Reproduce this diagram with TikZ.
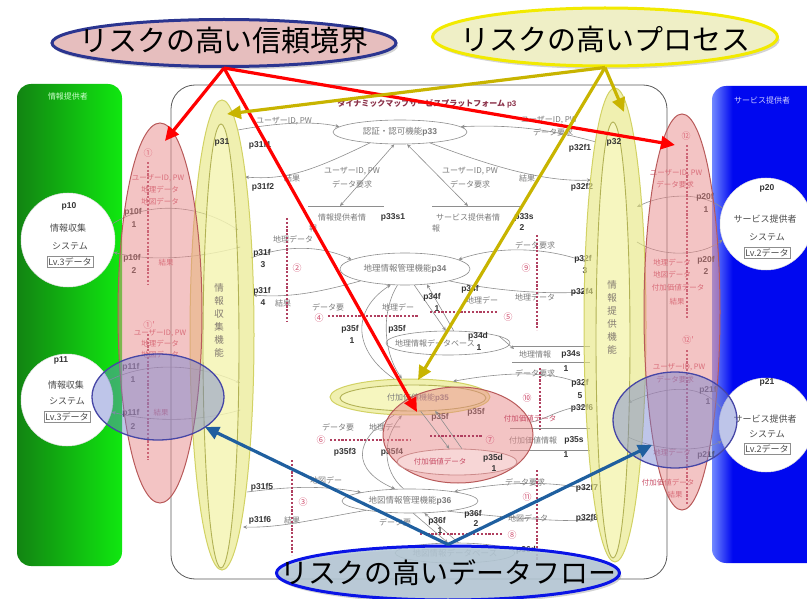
\documentclass[tikz,border=0pt]{standalone}
\usepackage{fontspec}
\setmainfont{Noto Sans CJK JP}
\newfontfamily\lab{Liberation Sans}
\usetikzlibrary{shapes.geometric,arrows.meta,shadows}
\definecolor{grayln}{HTML}{8E8E8E}
\definecolor{graytx}{HTML}{7A7A7A}
\definecolor{rdash}{HTML}{B04060}
\definecolor{rnum}{HTML}{D05070}
\definecolor{pinkfill}{HTML}{E88A8A}
\definecolor{pinkline}{HTML}{B85A5A}
\definecolor{yfill}{HTML}{E6E680}
\definecolor{yline}{HTML}{D2D264}
\definecolor{yinner}{HTML}{FAFAC8}
\definecolor{bfill}{HTML}{6F7FCF}
\definecolor{bline}{HTML}{4646A6}
\definecolor{redarr}{HTML}{FF0000}
\definecolor{yelarr}{HTML}{C8B400}
\definecolor{bluarr}{HTML}{1F5F9F}
\definecolor{cfa}{HTML}{E6BEBE}
\definecolor{cla}{HTML}{2B3590}
\definecolor{cfb}{HTML}{EFEFC6}
\definecolor{clb}{HTML}{F2EA00}
\definecolor{cfc}{HTML}{B4C8D6}
\definecolor{clc}{HTML}{0A14E6}
\definecolor{gdark}{HTML}{128412}
\definecolor{glight}{HTML}{10E810}
\definecolor{bpanel}{HTML}{0008F0}
\definecolor{bpanell}{HTML}{7088FF}
\definecolor{titlec}{HTML}{8A3048}
\definecolor{pinktx}{HTML}{C85068}
\pgfdeclarehorizontalshading{greenpanel}{100bp}{color(0bp)=(gdark); color(25bp)=(gdark); color(75bp)=(glight); color(100bp)=(glight)}
\pgfdeclarehorizontalshading{bluepanel}{100bp}{color(0bp)=(bpanell); color(25bp)=(bpanell); color(33bp)=(bpanel); color(100bp)=(bpanel)}
\tikzset{
 gtx/.style={font=\fontsize{8}{9}\selectfont, text=graytx, inner sep=0.5pt},
 ptx/.style={font=\lab\bfseries\fontsize{8.5}{9}\selectfont, text=black!80, inner sep=0.5pt},
 rtx/.style={font=\fontsize{7.5}{8}\selectfont, text=pinktx, inner sep=0.5pt},
 wtx/.style={font=\fontsize{9}{10}\selectfont, text=black!70, inner sep=0.5pt},
 rno/.style={font=\fontsize{9}{9}\selectfont, text=rnum, inner sep=0pt},
 gflow/.style={draw=grayln, line width=0.6pt, -{Stealth[length=4pt,width=3.5pt]}},
 gbi/.style={draw=grayln, line width=0.6pt, {Stealth[length=4pt,width=3.5pt]}-{Stealth[length=4pt,width=3.5pt]}},
 gline/.style={draw=grayln, line width=0.7pt},
 rdl/.style={draw=rdash, line width=1.3pt, dash pattern=on 2.2pt off 1.6pt},
 gproc/.style={ellipse, draw=grayln, fill=white, line width=0.6pt, inner sep=0pt, font=\fontsize{8.5}{9}\selectfont, text=graytx},
 wcirc/.style={circle, fill=white, draw=black!12, line width=0.5pt, inner sep=0pt},
 pinkell/.style={ellipse, fill=pinkfill, fill opacity=0.5, draw=pinkline, line width=1pt, inner sep=0pt},
 yell/.style={ellipse, fill=yfill, fill opacity=0.62, draw=yline, line width=1pt, inner sep=0pt},
 yinn/.style={ellipse, fill=yinner, fill opacity=0.6, draw=yline!85!black, line width=0.9pt, inner sep=0pt},
 bell/.style={ellipse, fill=bfill, fill opacity=0.45, draw=bline, line width=1.3pt, inner sep=0pt},
 bigarrow/.style={line width=3.2pt, -{Triangle[length=14pt,width=13pt]}},
 callout/.style={ellipse, line width=3pt, inner sep=0pt, drop shadow={opacity=0.35, shadow xshift=2pt, shadow yshift=-3pt}},
 ctext/.style={font=\fontsize{29}{30}\selectfont, text=black, inner sep=0pt},
}
\begin{document}
\begin{tikzpicture}[x=1pt,y=-1pt]
\useasboundingbox (0,0) rectangle (807,599);
% side panels
\path[shading=greenpanel, rounded corners=14pt] (17,84) rectangle (122,566);
\node[font=\fontsize{8}{9}\selectfont, text=white!80!green] (glab) at (68,96) {情報提供者};
\path[shading=bluepanel, rounded corners=14pt] (712,86) rectangle (840,563);
\node[font=\fontsize{8}{9}\selectfont, text=white!80!blue] (blab) at (762,100) {サービス提供者};
% external systems
\node[wcirc, minimum size=94pt] (p10) at (68,240) {};
\node[ptx] (p10a) at (69,206) {p10};
\node[wtx] (p10b) at (68,228) {情報収集};
\node[wtx] (p10c) at (70,246) {システム};
\node[wtx, draw=grayln, inner sep=1.5pt] (p10d) at (70,262) {Lv.3データ};
\node[wcirc, minimum size=92pt] (p11) at (67,400) {};
\node[ptx] (p11a) at (61,360) {p11};
\node[wtx] (p11b) at (66,385) {情報収集};
\node[wtx] (p11c) at (67,401) {システム};
\node[wtx, draw=grayln, inner sep=1.5pt] (p11d) at (67,417) {Lv.3データ};
\node[wcirc, minimum size=92pt] (p20) at (766,224) {};
\node[ptx] (p20a) at (767,188) {p20};
\node[wtx] (p20b) at (765,219) {サービス提供者};
\node[wtx] (p20c) at (767,237) {システム};
\node[wtx, draw=grayln, inner sep=1.5pt] (p20d) at (767,253) {Lv.2データ};
\node[wcirc, minimum size=94pt] (p21) at (766,425) {};
\node[ptx] (p21a) at (767,382) {p21};
\node[wtx] (p21b) at (765,419) {サービス提供者};
\node[wtx] (p21c) at (767,434) {システム};
\node[wtx, draw=grayln, inner sep=1.5pt] (p21d) at (767,449) {Lv.2データ};
% platform
\draw[draw=black!65, line width=0.8pt, rounded corners=24pt] (171,85) rectangle (667,579);
\node[font=\fontsize{8}{9}\selectfont\bfseries, text=titlec] (title) at (427,104) {ダイナミックマップサービスプラットフォーム {\lab\bfseries p3}};
% processes and stores
\node[gproc, minimum width=134pt, minimum height=24pt] (p33) at (400,132) {認証・認可機能{\lab\bfseries p33}};
\node[gproc, minimum width=130pt, minimum height=32pt] (p34) at (405,269) {地理情報管理機能{\lab\bfseries p34}};
\node[gproc, minimum width=124pt, minimum height=24pt] (p34d) at (448,343) {};
\node[gtx] (p34dt) at (435,343) {地理情報データベース};
\node[ptx] (p34dl) at (478,336) {p34d};
\node[ptx] (p34dn) at (479,348) {1};
\node[gproc, minimum width=136pt, minimum height=24pt] (p36) at (410,501) {地図情報管理機能{\lab\bfseries p36}};
\node[gproc, minimum width=110pt, minimum height=20pt] (p36d) at (455,553) {地図情報データベース};
\node[ptx] (p36dl) at (526,550) {p36d};
% data stores
\coordinate (s1t) at (340,206);
\coordinate (s2t) at (468,206);
\draw[gline] (308,206) -- (384,206);
\draw[gline] (432,206) -- (522,206);
\node[gtx] (s1a) at (342,217) {情報提供者情};
\node[ptx] (s1b) at (393,217) {p33s1};
\node[gtx] (s1c) at (313,228) {報};
\node[gtx] (s2a) at (468,217) {サービス提供者情};
\node[ptx] (s2b) at (524,217) {p33s};
\node[ptx] (s2c) at (522,228) {2};
\node[gtx] (s2d) at (436,228) {報};
\draw[gline] (512,346) -- (590,346);
\draw[gline] (512,362) -- (590,362);
\node[gtx] (s3a) at (535,354) {地理情報};
\node[ptx] (s3b) at (571,354) {p34s};
\node[ptx] (s3c) at (566,369) {1};
\coordinate (s3w) at (514,349);
\draw[gline] (510,428) -- (590,428);
\draw[gline] (510,450) -- (590,450);
\node[gtx] (s4a) at (533,440) {付加価値情報};
\node[ptx] (s4b) at (574,440) {p35s};
\node[ptx] (s4c) at (566,455) {1};
% endpoints inside processes p31 / p32
\coordinate (q1) at (238,130);
\coordinate (q2) at (245,177);
\coordinate (q3) at (251,258);
\coordinate (q4) at (253,295);
\coordinate (q5) at (247,492);
\coordinate (q6) at (243,527);
\coordinate (q7) at (238,230);
\coordinate (q8) at (240,247);
\coordinate (q9) at (240,383);
\coordinate (q10) at (240,410);
\coordinate (r1) at (596,142);
\coordinate (r2) at (591,180);
\coordinate (r3) at (586,262);
\coordinate (r4) at (585,292);
\coordinate (r5) at (585,386);
\coordinate (r6) at (586,406);
\coordinate (r7) at (590,490);
\coordinate (r8) at (594,520);
\coordinate (r9) at (637,207);
\coordinate (r10) at (637,242);
\coordinate (r11) at (628,403);
\coordinate (r12) at (628,437);
% center yellow process p35
\node[yell, minimum width=160pt, minimum height=36pt] (p35o) at (410,397) {};
\node[yinn, minimum width=146pt, minimum height=26pt] (p35) at (413,398) {};
\node[gtx] (p35t) at (418,398) {付加価値機能{\lab\bfseries p35}};
% gray flows
\draw[gflow] (q1) .. controls (270,124) and (310,120) .. (p33.175);
\draw[gflow] (p33.200) .. controls (310,172) and (285,180) .. (q2);
\draw[gflow] (r1) .. controls (560,132) and (520,124) .. (p33.5);
\draw[gflow] (p33.340) .. controls (500,170) and (550,182) .. (r2);
\draw[gbi] (p33.245) -- (s1t);
\draw[gbi] (p33.300) -- (s2t);
\draw[gflow] (q3) .. controls (285,245) and (320,245) .. (p34.170);
\draw[gflow] (p34.195) .. controls (320,292) and (290,298) .. (q4);
\draw[gflow] (r3) .. controls (550,248) and (500,245) .. (p34.10);
\draw[gflow] (p34.345) .. controls (500,292) and (550,294) .. (r4);
\draw[gflow] (p34.300) -- (p34d.100);
\draw[gflow] (p34d.65) -- (p34.325);
\draw[gflow] (p34d.8) -- (s3w);
\draw[gflow] (p35o.131) .. controls (352,350) and (352,310) .. (p34.228);
\draw[gflow] (p34.245) .. controls (382,310) and (382,350) .. (p35o.114);
\draw[gflow] (p35o.229) .. controls (352,440) and (352,470) .. (p36.141);
\draw[gflow] (p36.118) .. controls (382,470) and (382,440) .. (p35o.246);
\draw[gflow] (r5) .. controls (560,372) and (515,370) .. (p35o.20);
\draw[gflow] (q5) .. controls (280,488) and (315,484) .. (p36.170);
\draw[gflow] (p36.192) .. controls (310,520) and (280,528) .. (q6);
\draw[gflow] (r7) .. controls (560,482) and (510,480) .. (p36.12);
\draw[gflow] (p36.345) .. controls (510,518) and (560,522) .. (r8);
\draw[gflow] (p36.285) -- (p36d.125);
\draw[gflow] (p36d.72) -- (p36.320);
\draw[gflow] (p10.20) .. controls (150,200) and (200,205) .. (q7);
\draw[gflow] (q8) .. controls (200,258) and (150,262) .. (p10.345);
\draw[gflow] (p11.25) .. controls (150,360) and (200,365) .. (q9);
\draw[gflow] (q10) .. controls (200,422) and (150,422) .. (p11.345);
\draw[gflow] (p20.160) .. controls (700,190) and (660,195) .. (r9);
\draw[gflow] (r10) .. controls (660,257) and (700,257) .. (p20.200);
\draw[gflow] (p21.160) .. controls (700,380) and (660,388) .. (r11);
\draw[gflow] (r12) .. controls (660,452) and (700,452) .. (p21.200);
% gray flow texts
\node[gtx] (t1) at (284,121) {ユーザーID, PW};
\node[gtx] (t2) at (292,178) {結果};
\node[gtx] (t3) at (352,171) {ユーザーID, PW};
\node[gtx] (t4) at (352,184) {データ要求};
\node[gtx] (t5) at (470,171) {ユーザーID, PW};
\node[gtx] (t6) at (470,184) {データ要求};
\node[gtx] (t7) at (549,120) {ユーザーID, PW};
\node[gtx] (t8) at (553,132) {データ要求};
\node[gtx] (t9) at (527,178) {結果};
\node[gtx] (t10) at (293,239) {地理データ};
\node[gtx] (t11) at (283,303) {結果};
\node[gtx] (t12) at (535,245) {データ要求};
\node[gtx] (t13) at (535,297) {地理データ};
\node[gtx] (t14) at (328,307) {データ要};
\node[gtx] (t15) at (398,307) {地理デー};
\node[gtx] (t16) at (482,300) {地理デー};
\node[gtx] (t17) at (338,427) {データ要};
\node[gtx] (t18) at (385,427) {地理デー};
\node[gtx] (t19) at (535,373) {データ要求};
\node[gtx] (t20) at (326,480) {地図デー};
\node[gtx] (t21) at (292,520) {結果};
\node[gtx] (t22) at (525,482) {データ要求};
\node[gtx] (t23) at (528,518) {地図データ};
\node[gtx] (t24) at (395,522) {データ要};
% bold flow labels
\node[ptx] (f311) at (260,145) {p31f1};
\node[ptx] (f312) at (263,187) {p31f2};
\node[ptx] (f313) at (262,253) {p31f};
\node[ptx] (f313n) at (263,265) {3};
\node[ptx] (f314) at (262,291) {p31f};
\node[ptx] (f314n) at (263,303) {4};
\node[ptx] (f315) at (262,487) {p31f5};
\node[ptx] (f316) at (260,520) {p31f6};
\node[ptx] (f321) at (580,148) {p32f1};
\node[ptx] (f322) at (582,187) {p32f2};
\node[ptx] (f323) at (583,259) {p32f};
\node[ptx] (f323n) at (585,271) {3};
\node[ptx] (f324) at (582,292) {p32f4};
\node[ptx] (f325) at (580,383) {p32f};
\node[ptx] (f325n) at (580,396) {5};
\node[ptx] (f326) at (582,408) {p32f6};
\node[ptx] (f327) at (587,488) {p32f7};
\node[ptx] (f328) at (587,518) {p32f8};
\node[ptx] (f341) at (432,297) {p34f};
\node[ptx] (f341n) at (437,309) {1};
\node[ptx] (f342) at (470,289) {p34f};
\node[ptx] (f351) at (350,329) {p35f};
\node[ptx] (f351n) at (352,341) {1};
\node[ptx] (f352) at (397,329) {p35f};
\node[ptx] (f353) at (345,452) {p35f3};
\node[ptx] (f354) at (392,452) {p35f4};
\node[ptx] (f355) at (440,417) {p35f};
\node[ptx] (f356) at (476,412) {p35f};
\node[ptx] (f361) at (437,521) {p36f};
\node[ptx] (f361n) at (440,531) {1};
\node[ptx] (f362) at (473,514) {p36f};
\node[ptx] (f362n) at (476,524) {2};
% red dashed process separators and numbers
\draw[rdl] (287,218) -- (287,322);
\node[rno] (n2) at (297,268) {②};
\draw[rdl] (537,235) -- (537,330);
\node[rno] (n9) at (526,268) {⑨};
\draw[rdl] (328,316) -- (418,316);
\node[rno] (n4) at (319,318) {④};
\draw[rdl] (430,312) -- (498,312);
\node[rno] (n5) at (508,317) {⑤};
\draw[rdl] (330,440) -- (410,440);
\node[rno] (n6) at (321,440) {⑥};
\draw[rdl] (540,368) -- (540,430);
\node[rno] (n10) at (527,398) {⑩};
\draw[rdl] (292,460) -- (292,555);
\node[rno] (n3) at (303,502) {③};
\draw[rdl] (537,470) -- (537,560);
\node[rno] (n11) at (527,497) {⑪};
\draw[rdl] (420,534) -- (503,534);
\node[rno] (n8) at (512,535) {⑧};
% trust-boundary texts
\draw[rdl] (148,162) -- (148,284);
\node[rno] (n1) at (148,153) {①};
\draw[rdl] (148,334) -- (148,460);
\node[rno] (n1b) at (149,325) {①′};
\draw[rdl] (687,145) -- (687,318);
\node[rno] (n12) at (686,136) {⑫};
\draw[rdl] (687,350) -- (687,505);
\node[rno] (n12b) at (688,340) {⑫′};
\node[rtx] (a1) at (158,178) {ユーザーID, PW};
\node[rtx] (a2) at (160,190) {地理データ};
\node[rtx] (a3) at (160,202) {地図データ};
\node[ptx] (a4) at (133,212) {p10f};
\node[ptx] (a5) at (134,225) {1};
\node[ptx] (a6) at (132,258) {p10f};
\node[ptx] (a7) at (134,271) {2};
\node[rtx] (a8) at (166,263) {結果};
\node[rtx] (b1) at (160,333) {ユーザーID, PW};
\node[rtx] (b2) at (160,344) {地理データ};
\node[rtx] (b3) at (160,355) {地図データ};
\node[ptx] (b4) at (131,367) {p11f};
\node[ptx] (b5) at (133,380) {1};
\node[ptx] (b6) at (131,413) {p11f};
\node[ptx] (b7) at (133,427) {2};
\node[rtx] (b8) at (161,413) {結果};
\node[rtx] (c1a) at (676,173) {ユーザーID, PW};
\node[rtx] (c1b) at (675,185) {データ要求};
\node[ptx] (c1c) at (705,197) {p20f};
\node[ptx] (c1d) at (706,210) {1};
\node[ptx] (c1e) at (706,260) {p20f};
\node[ptx] (c1f) at (706,272) {2};
\node[rtx] (c1g) at (672,263) {地理データ};
\node[rtx] (c1h) at (672,275) {地図データ};
\node[rtx] (c1i) at (678,288) {付加価値データ};
\node[rtx] (c1j) at (677,302) {結果};
\node[rtx] (d1a) at (679,367) {ユーザーID, PW};
\node[rtx] (d1b) at (675,380) {データ要求};
\node[ptx] (d1c) at (708,390) {p21f};
\node[ptx] (d1d) at (708,402) {1};
\node[ptx] (d1e) at (706,455) {p21f};
\node[rtx] (d1f) at (672,453) {地理データ};
\node[rtx] (d1g) at (668,483) {付加価値データ};
\node[rtx] (d1h) at (675,495) {結果};
% processes p31 and p32
\node[yell, minimum width=64pt, minimum height=470pt] (pr31o) at (222,335) {};
\node[yinn, minimum width=36pt, minimum height=444pt] (pr31) at (221,346) {};
\node[yell, minimum width=62pt, minimum height=474pt] (pr32o) at (615,325) {};
\node[yinn, minimum width=34pt, minimum height=436pt] (pr32) at (613,340) {};
\node[font=\fontsize{9.5}{13}\selectfont, text=graytx!85!brown, align=center, inner sep=0pt] (v31) at (219,320) {情\\報\\収\\集\\機\\能};
\node[font=\fontsize{9.5}{13}\selectfont, text=graytx!85!brown, align=center, inner sep=0pt] (v32) at (612,317) {情\\報\\提\\供\\機\\能};
\node[ptx] (l31) at (222,142) {p31};
\node[ptx] (l32) at (614,142) {p32};
% trust boundaries
\node[pinkell, minimum width=84pt, minimum height=380pt] (tbL) at (160,313) {};
\node[pinkell, minimum width=76pt, minimum height=396pt] (tbR) at (682,312) {};
\node[pinkell, minimum width=150pt, minimum height=96pt] (tbC) at (458,435) {};
\node[ellipse, draw=pinkline!70, fill=white, fill opacity=0.3, line width=0.8pt, minimum width=120pt, minimum height=26pt] (p35d) at (457,462) {};
\node[rtx] (p35dt) at (440,462) {付加価値データ};
\node[ptx] (p35dl) at (493,458) {p35d};
\node[ptx] (p35dn) at (494,469) {1};
\draw[gflow] (p35.300) -- (p35d.120);
\draw[gflow] (p35d.70) -- (p35.330);
\draw[gflow] (tbC.10) .. controls (545,420) and (560,408) .. (r6);
\node[rtx] (e1) at (530,419) {付加価値データ};
\draw[rdl] (430,436) -- (482,436);
\node[rno] (n7) at (490,440) {⑦};
% data flows
\node[bell, minimum width=132pt, minimum height=86pt] (dfL) at (158,397) {};
\node[bell, minimum width=124pt, minimum height=96pt] (dfR) at (675,420) {};
% callouts
\node[callout, fill=cfa, draw=cla, minimum width=344pt, minimum height=47pt] (c1) at (224,43) {};
\node[ctext] (c1t) at (224,41) {リスクの高い信頼境界};
\node[callout, fill=cfb, draw=clb, minimum width=345pt, minimum height=58pt] (c2) at (605,37) {};
\node[ctext] (c2t) at (605,39) {リスクの高いプロセス};
\node[callout, fill=cfc, fill opacity=0.85, draw=clc, draw opacity=1, minimum width=343pt, minimum height=54pt] (c3) at (448,573) {};
\node[ctext, font=\fontsize{28}{30}\selectfont] (c3t) at (448,573) {リスクの高いデータフロー};
% pointer arrows
\coordinate (ra) at (165,141);
\coordinate (rb) at (417,412);
\coordinate (rc) at (675,145);
\coordinate (ya) at (227,114);
\coordinate (yb) at (624,112);
\coordinate (yc) at (418,380);
\coordinate (ba) at (205,427);
\coordinate (bb) at (652,445);
\draw[bigarrow, draw=redarr, fill=redarr] (c1.south) -- (ra);
\draw[bigarrow, draw=redarr, fill=redarr] (c1.south) -- (rb);
\draw[bigarrow, draw=redarr, fill=redarr] (c1.south) -- (rc);
\draw[bigarrow, draw=yelarr, fill=yelarr] (c2.south) -- (ya);
\draw[bigarrow, draw=yelarr, fill=yelarr] (c2.south) -- (yb);
\draw[bigarrow, draw=yelarr, fill=yelarr] (c2.south) -- (yc);
\draw[bigarrow, draw=bluarr, fill=bluarr] (c3.north) -- (ba);
\draw[bigarrow, draw=bluarr, fill=bluarr] (c3.north) -- (bb);
\end{tikzpicture}
\end{document}
